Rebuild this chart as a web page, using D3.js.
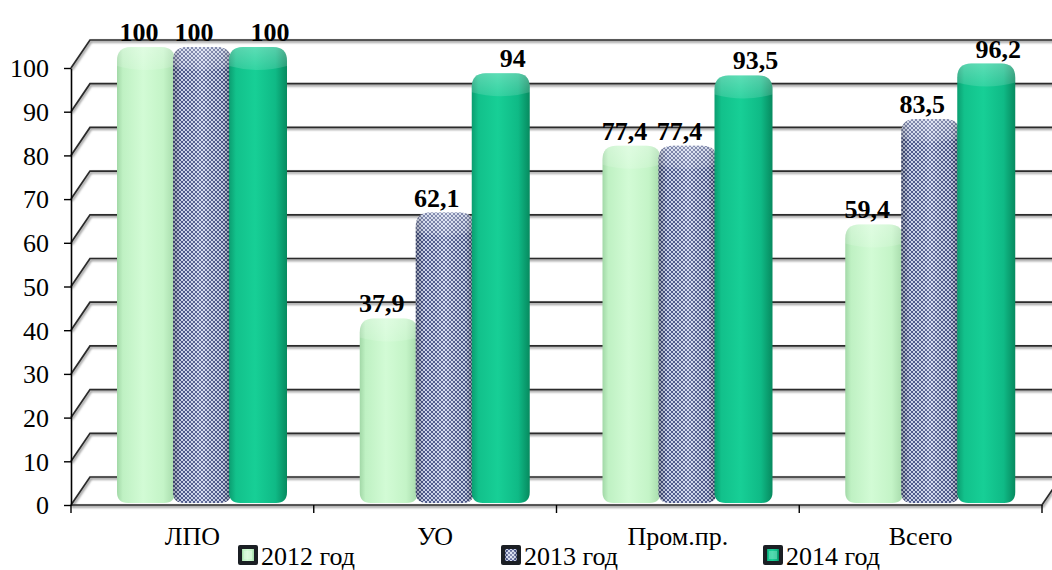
<!DOCTYPE html>
<html>
<head>
<meta charset="utf-8">
<script src="https://cdn.jsdelivr.net/npm/d3@7/dist/d3.min.js"></script>
<style>
  html, body { margin: 0; padding: 0; background: #fff; }
  svg { display: block; }
  svg text { font-family: "Liberation Serif", "Times New Roman", "DejaVu Serif", serif !important; }
</style>
</head>
<body>
<svg id="chart" width="1052" height="570"></svg>
<script>
// Chart data
const categories = ["ЛПО", "УО", "Пром.пр.", "Всего"];
const seriesNames = ["2012 год", "2013 год", "2014 год"];
const values2012 = [100, 37.9, 77.4, 59.4];
const values2013 = [100, 62.1, 77.4, 83.5];
const values2014 = [100, 94, 93.5, 96.2];
const yTicks = [0, 10, 20, 30, 40, 50, 60, 70, 80, 90, 100];

const seriesValues = [values2012, values2013, values2014];
const fmt = v => String(v).replace(".", ",");
const FONT = "'Liberation Serif', 'Times New Roman', serif";

const svg = d3.select("#chart");
const W = 1052;

// Plot geometry (front plane of the 3D box, plus depth offset to the back wall)
const plot = { left: 71, right: 1042, top: 68, bottom: 505 };
const depth = { dx: 19, dy: -28 };

const y = d3.scaleLinear().domain([0, 100]).range([plot.bottom, plot.top]);
const x = d3.scaleBand().domain(categories).range([plot.left, plot.right]);
const inner = d3.scaleBand().domain(seriesNames).range([46, 214]);
const barW = inner.bandwidth() + 2;
const capH = 21;

const defs = svg.append("defs");

// Horizontal shading for the rounded bars
function hGrad(id, stops) {
  const g = defs.append("linearGradient").attr("id", id)
    .attr("x1", "0%").attr("x2", "100%").attr("y1", "0%").attr("y2", "0%");
  stops.forEach(([o, c, a]) => g.append("stop").attr("offset", o).attr("stop-color", c).attr("stop-opacity", a == null ? 1 : a));
}
hGrad("g2012", [["0%", "#a2d8a7"], ["10%", "#bff1c3"], ["45%", "#d2fbd5"], ["80%", "#c4f4c7"], ["100%", "#a6daaa"]]);
hGrad("g2014", [["0%", "#0b9d70"], ["12%", "#12c18b"], ["45%", "#17cf96"], ["80%", "#0fba86"], ["100%", "#078a5f"]]);
hGrad("shade2013", [["0%", "#000", 0.3], ["15%", "#000", 0.03], ["50%", "#fff", 0.12], ["85%", "#000", 0.06], ["100%", "#000", 0.35]]);

// Dotted fill for the 2013 series
const pat = defs.append("pattern").attr("id", "p2013")
  .attr("patternUnits", "userSpaceOnUse").attr("width", 4).attr("height", 4);
pat.append("rect").attr("width", 4).attr("height", 4).attr("fill", "#d6def3");
[[0, 0], [4, 0], [0, 4], [4, 4], [2, 2]].forEach(([cx, cy]) =>
  pat.append("circle").attr("cx", cx).attr("cy", cy).attr("r", 1.1).attr("fill", "#2f3c78"));

// Top-face highlight
const cg = defs.append("linearGradient").attr("id", "cap")
  .attr("x1", "0%").attr("x2", "0%").attr("y1", "0%").attr("y2", "100%");
cg.append("stop").attr("offset", "0%").attr("stop-color", "#fff").attr("stop-opacity", 0.3);
cg.append("stop").attr("offset", "100%").attr("stop-color", "#fff").attr("stop-opacity", 0.12);

// Soft shadow for gridlines
const blur = defs.append("filter").attr("id", "soft").attr("x", "-5%").attr("y", "-50%").attr("width", "110%").attr("height", "200%");
blur.append("feGaussianBlur").attr("stdDeviation", 1);

const fills = ["url(#g2012)", "url(#p2013)", "url(#g2014)"];
const labelShift = [-7, -8, 12];

// Gridlines: front-left diagonal, then along the back wall
const grid = svg.append("g");
const gridPath = t => `M${plot.left},${y(t)}L${plot.left + depth.dx},${y(t) + depth.dy}L${W + 20},${y(t) + depth.dy}`;
grid.selectAll("path.sh").data(yTicks).join("path")
  .attr("d", gridPath).attr("transform", "translate(1,1.5)")
  .attr("fill", "none").attr("stroke", "#9a9a9a").attr("stroke-width", 2.4).attr("filter", "url(#soft)");
grid.selectAll("path.ln").data(yTicks).join("path")
  .attr("d", gridPath)
  .attr("fill", "none").attr("stroke", "#2b2b2b").attr("stroke-width", 1.7);

// Floor front edge and right edge
const floorD = `M${plot.left},${plot.bottom}L${plot.right},${plot.bottom}L${plot.right + depth.dx},${plot.bottom + depth.dy}`;
grid.append("path").attr("d", floorD)
  .attr("fill", "none").attr("stroke", "#9a9a9a").attr("stroke-width", 2.4)
  .attr("transform", "translate(1,1.5)").attr("filter", "url(#soft)");
grid.append("path").attr("d", floorD)
  .attr("fill", "none").attr("stroke", "#2b2b2b").attr("stroke-width", 1.7);

// Rounded bar outline
function barPath(x0, w, yTop, yBot, rt, rb) {
  const x1 = x0 + w;
  return `M${x0},${yTop + rt}Q${x0},${yTop} ${x0 + rt},${yTop}L${x1 - rt},${yTop}Q${x1},${yTop} ${x1},${yTop + rt}` +
    `L${x1},${yBot - rb}Q${x1},${yBot} ${x1 - rb},${yBot}L${x0 + rb},${yBot}Q${x0},${yBot} ${x0},${yBot - rb}Z`;
}
function capPath(x0, w, yTop, yFront, rt) {
  const x1 = x0 + w;
  return `M${x0},${yTop + rt}Q${x0},${yTop} ${x0 + rt},${yTop}L${x1 - rt},${yTop}Q${x1},${yTop} ${x1},${yTop + rt}` +
    `L${x1},${yFront - 2}Q${x0 + w / 2},${yFront + 6} ${x0},${yFront - 2}Z`;
}

const bars = svg.append("g");
const bottomY = plot.bottom - 2;
categories.forEach((cat, i) => {
  seriesNames.forEach((s, j) => {
    const v = seriesValues[j][i];
    const x0 = x(cat) + inner(s);
    const yFront = y(v);
    const yTop = yFront - capH;
    const d = barPath(x0, barW, yTop, bottomY, 14, 11);
    bars.append("path").attr("d", d).attr("fill", fills[j]);
    if (j === 1) bars.append("path").attr("d", d).attr("fill", "url(#shade2013)");
    bars.append("path").attr("d", capPath(x0, barW, yTop, yFront, 14)).attr("fill", "url(#cap)");
  });
});

// Value labels
const labels = svg.append("g").attr("font-weight", "bold").attr("font-size", 26)
  .attr("text-anchor", "middle").attr("font-family", FONT);
categories.forEach((cat, i) => {
  seriesNames.forEach((s, j) => {
    const v = seriesValues[j][i];
    labels.append("text")
      .attr("x", x(cat) + inner(s) + barW / 2 + labelShift[j])
      .attr("y", y(v) - capH - 6)
      .text(fmt(v));
  });
});

// Value axis
const yAxis = svg.append("g").attr("transform", `translate(${plot.left},0)`)
  .call(d3.axisLeft(y).tickValues(yTicks).tickSize(7).tickSizeOuter(0).tickPadding(15).tickFormat(d3.format("d")));
yAxis.attr("font-family", FONT).attr("font-size", 26);
yAxis.select(".domain").attr("stroke", "#000").attr("stroke-width", 1.6);
yAxis.selectAll(".tick line").attr("stroke", "#000").attr("stroke-width", 1.4);
yAxis.selectAll(".tick text").attr("fill", "#000").attr("dy", "0.34em");

// Category axis: boundary ticks and centred labels
const bounds = d3.range(categories.length + 1).map(k => plot.left + k * x.step());
svg.append("g").selectAll("line").data(bounds).join("line")
  .attr("x1", d => d).attr("x2", d => d).attr("y1", plot.bottom).attr("y2", plot.bottom + 8)
  .attr("stroke", "#000").attr("stroke-width", 1.4);
svg.append("g").attr("font-family", FONT).selectAll("text").data(categories).join("text")
  .attr("x", d => x(d) + x.bandwidth() / 2).attr("y", 545)
  .attr("text-anchor", "middle").attr("font-size", 26).attr("fill", "#000")
  .text(d => d);

// Legend
const legendX = [238, 501, 763];
const legend = svg.append("g").attr("font-family", FONT);
seriesNames.forEach((s, j) => {
  const g = legend.append("g").attr("transform", `translate(${legendX[j]},545)`);
  g.append("rect").attr("x", 0).attr("y", 0).attr("width", 20).attr("height", 20).attr("rx", 2)
    .attr("fill", "#1b1f24");
  g.append("rect").attr("x", 4).attr("y", 4).attr("width", 12).attr("height", 12)
    .attr("fill", fills[j]);
  if (j === 1) g.append("rect").attr("x", 4).attr("y", 4).attr("width", 12).attr("height", 12).attr("fill", "url(#shade2013)");
  g.append("rect").attr("x", 6).attr("y", 6).attr("width", 8).attr("height", 8).attr("fill", "#fff").attr("opacity", 0.25);
  g.append("text").attr("x", 23).attr("y", 20).attr("font-size", 26).attr("fill", "#000").text(s);
});
</script>
</body>
</html>
